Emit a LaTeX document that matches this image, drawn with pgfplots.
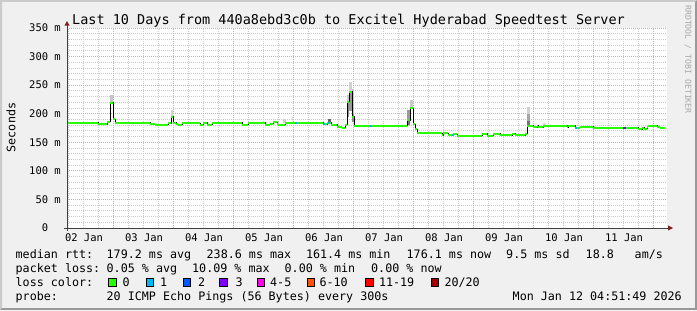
\documentclass[border=0pt]{standalone}
\usepackage{pgfplots}
\pgfplotsset{compat=1.18}
\usepackage{pgfplotstable}
\usepackage{fontspec}
\setmainfont{DejaVu Sans Mono}
\definecolor{bgc}{HTML}{F0F0F0}
\definecolor{shadea}{HTML}{CBCBCB}
\definecolor{shadeb}{HTML}{999999}
\definecolor{gridc}{HTML}{CBCBCB}
\definecolor{mgridc}{HTML}{ECA0A0}
\definecolor{axisc}{HTML}{404040}
\definecolor{arrowc}{HTML}{7F1F1F}
\definecolor{lossA}{HTML}{26FF00}
\definecolor{lossB}{HTML}{00B8FF}
\definecolor{lossC}{HTML}{0059FF}
\definecolor{lossD}{HTML}{7E00FF}
\definecolor{lossE}{HTML}{FF00EA}
\definecolor{lossF}{HTML}{FF5500}
\definecolor{lossG}{HTML}{FF0000}
\definecolor{lossH}{HTML}{A10000}
\definecolor{wmark}{HTML}{A8A8A8}
\newcommand\fT{\fontsize{13.5bp}{16bp}\selectfont}
\newcommand\fL{\fontsize{11.7bp}{14bp}\selectfont}
\newcommand\fA{\fontsize{10.5bp}{12bp}\selectfont}
\newcommand\fW{\fontsize{8.2bp}{10bp}\selectfont}

\pgfplotstableread{
u y
0 184
31 182
40 186
43 219
46 190
48 184
83 182
88 180.5
101 183
104 195
106 184
109 182
111 180.5
115 184
125 183
133 180.5
136 184
140 180.5
145 183
151 184.3
175 180.5
181 184.3
198 180.5
203 182.6
206 185
210 182
211 180.5
218 184.3
256 182
260 183
261 184.3
264 180.5
270 176.2
275 175.6
278 180.5
280 221
282 238.6
285 194.8
287 179.1
321 178.5
324 179.1
340 189
343 209.4
346 181.4
348 172.6
350 165.6
375 162.2
376 165.6
381 162.75
386 164.5
390 161.6
415 165
420 161.6
426 165
433 162.75
445 165.1
448 162.75
458 165.1
460 179.1
466 176.75
470 179.1
471 176.75
476 179.1
500 176.75
501 179.1
508 175.6
513 177.3
526 175.6
571 173.25
575 175.6
577 173.8
580 177.3
581 179.1
590 176.75
593 175
598 175
}\median

\begin{document}
\begin{tikzpicture}[x=1bp,y=1bp]
\path[use as bounding box] (0,0) rectangle (697,310);
\fill[bgc] (0,0) rectangle (697,310);
\fill[shadea] (0,0) -- (2,2) -- (2,308) -- (695,308) -- (697,310) -- (0,310) -- cycle;
\fill[shadeb] (0,0) -- (697,0) -- (697,310) -- (695,308) -- (695,2) -- (2,2) -- cycle;

\begin{axis}[
  scale only axis, width=600bp, height=200bp,
  at={(67bp,82bp)}, anchor=south west,
  xmin=0, xmax=600, ymin=0, ymax=350,
  axis background/.style={fill=white},
  axis line style={draw=none},
  xtick={17,77,137,197,257,317,377,437,497,557},
  xticklabels={02 Jan,03 Jan,04 Jan,05 Jan,06 Jan,07 Jan,08 Jan,09 Jan,10 Jan,11 Jan},
  minor xtick={1,16,...,600},
  extra x ticks={46,106,166,226,286,346,406,466,526,586},
  extra x tick labels={},
  extra x tick style={grid=major},
  xmajorgrids=false, xminorgrids=true,
  ytick={0,50,...,350},
  yticklabels={0\phantom{ m},50 m,100 m,150 m,200 m,250 m,300 m,350 m},
  minor ytick={10,20,30,40,60,70,80,90,110,120,130,140,160,170,180,190,210,220,230,240,260,270,280,290,310,320,330,340},
  ymajorgrids=true, yminorgrids=true,
  major grid style={mgridc, line width=0.8bp, dash pattern=on 1bp off 1bp},
  minor grid style={gridc, line width=0.8bp, dash pattern=on 1bp off 1bp},
  tick style={draw=none},
  ticklabel style={font=\fA, inner sep=0pt, text=black},
  xticklabel style={anchor=north, yshift=-5.3bp},
  yticklabel style={anchor=east, xshift=-6bp},
]
% smoke
\addplot[draw=none, fill=black!22] coordinates {(43,219)(46,219)(46,233)(43,233)} -- cycle;
\addplot[draw=none, fill=black!18] coordinates {(104,195)(106,195)(106,206)(104,206)} -- cycle;
\addplot[draw=none, fill=black!20] coordinates {(280,221)(282,221)(282,233)(280,233)} -- cycle;
\addplot[draw=none, fill=black!45] coordinates {(280,195)(282,195)(282,221)(280,221)} -- cycle;
\addplot[draw=none, fill=black!18] coordinates {(282,238.6)(285,238.6)(285,256)(282,256)} -- cycle;
\addplot[draw=none, fill=black!40] coordinates {(282,205)(285,205)(285,238.6)(282,238.6)} -- cycle;
\addplot[draw=none, fill=black!22] coordinates {(285,194.8)(287,194.8)(287,244)(285,244)} -- cycle;
\addplot[draw=none, fill=black!45] coordinates {(285,185)(287,185)(287,200)(285,200)} -- cycle;
\addplot[draw=none, fill=black!20] coordinates {(343,209.4)(346,209.4)(346,224)(343,224)} -- cycle;
\addplot[draw=none, fill=black!40] coordinates {(340,189)(343,189)(343,206)(340,206)} -- cycle;
\addplot[draw=none, fill=black!55] coordinates {(340,180)(343,180)(343,189)(340,189)} -- cycle;
\addplot[draw=none, fill=black!18] coordinates {(460,200)(463,200)(463,211)(460,211)} -- cycle;
\addplot[draw=none, fill=black!35] coordinates {(460,188)(463,188)(463,200)(460,200)} -- cycle;
\addplot[draw=none, fill=black!55] coordinates {(460,179)(463,179)(463,188)(460,188)} -- cycle;
\addplot[draw=none, fill=black!20] coordinates {(216,184)(219,184)(219,190)(216,190)} -- cycle;
\addplot[draw=none, fill=black!12] coordinates {(224.5,185)(226,185)(226,195)(224.5,195)} -- cycle;
\addplot[draw=none, fill=black!60] coordinates {(261,185)(264,185)(264,191)(261,191)} -- cycle;
\addplot[draw=none, fill=black!15] coordinates {(476,179)(479,179)(479,184)(476,184)} -- cycle;
% median
\addplot[black, line width=0.8bp, const plot mark left] table[x=u, y=y] {\median};
\addplot[lossA, line width=2bp, jump mark left] table[x=u, y=y] {\median};
% loss coloured pieces
\addplot[lossB, line width=2bp] coordinates {(228,184.3)(230,184.3)};
\addplot[lossB, line width=2bp] coordinates {(256,182)(258,182)};
\addplot[lossB, line width=2bp] coordinates {(261,184.3)(263,184.3)};
\addplot[lossB, line width=2bp] coordinates {(303,179.1)(305,179.1)};
\addplot[lossB, line width=2bp] coordinates {(385,162.75)(387,162.75)};
\addplot[lossB, line width=2bp] coordinates {(508,175.6)(510,175.6)};
\addplot[lossD, line width=2bp] coordinates {(556,175.6)(559,175.6)};
\end{axis}

% axes
\draw[axisc, line width=1bp] (64,82) -- (668,82);
\fill[arrowc] (673,82) -- (668,84.6) -- (668,79.4) -- cycle;
\draw[axisc, line width=1bp] (67,79) -- (67,284.5);
\fill[arrowc] (67,289) -- (64.4,284.3) -- (69.6,284.3) -- cycle;

% title and labels
\node[anchor=base, inner sep=0pt, font=\fT] at (348.5,286) {Last 10 Days from 440a8ebd3c0b to Excitel Hyderabad Speedtest Server};
\node[rotate=90, inner sep=0pt, font=\fL] at (11,182.5) {Seconds};
\node[rotate=-90, anchor=west, inner sep=0pt, font=\fW, text=wmark] at (688,305) {RRDTOOL / TOBI OETIKER};

% legend
\begin{scope}[every node/.style={anchor=base west, inner sep=0pt, font=\fL}]
\node at (15.5,51.5) {median rtt:};
\node at (106.5,51.5) {179.2 ms avg};
\node at (206.5,51.5) {238.6 ms max};
\node at (305.8,51.5) {161.4 ms min};
\node at (406.5,51.5) {176.1 ms now};
\node at (506,51.5) {9.5 ms sd};
\node at (585.5,51.5) {18.8};
\node at (634.5,51.5) {am/s};
\node at (15.5,37.5) {packet loss:};
\node at (106.5,37.5) {0.05 \% avg};
\node at (192,37.5) {10.09 \% max};
\node at (284.5,37.5) {0.00 \% min};
\node at (371,37.5) {0.00 \% now};
\node at (15.5,23.5) {loss color:};
\node at (122.5,23.5) {0};
\node at (159.8,23.5) {1};
\node at (198,23.5) {2};
\node at (235.3,23.5) {3};
\node at (270,23.5) {4-5};
\node at (319.3,23.5) {6-10};
\node at (378.8,23.5) {11-19};
\node at (444.3,23.5) {20/20};
\node at (15.5,9.7) {probe:};
\node at (106.5,9.7) {20 ICMP Echo Pings (56 Bytes) every 300s};
\node at (512.5,9.7) {Mon Jan 12 04:51:49 2026};
\end{scope}
\begin{scope}[line width=0.8bp]
\filldraw[fill=lossA] (108.7,23.7) rectangle (116.3,31.3);
\filldraw[fill=lossB] (146.1,23.7) rectangle (153.7,31.3);
\filldraw[fill=lossC] (183.1,23.7) rectangle (190.7,31.3);
\filldraw[fill=lossD] (219.7,23.7) rectangle (227.3,31.3);
\filldraw[fill=lossE] (257.1,23.7) rectangle (264.7,31.3);
\filldraw[fill=lossF] (307.1,23.7) rectangle (314.7,31.3);
\filldraw[fill=lossG] (365.4,23.7) rectangle (373,31.3);
\filldraw[fill=lossH] (431.1,23.7) rectangle (438.7,31.3);
\end{scope}
\end{tikzpicture}
\end{document}
